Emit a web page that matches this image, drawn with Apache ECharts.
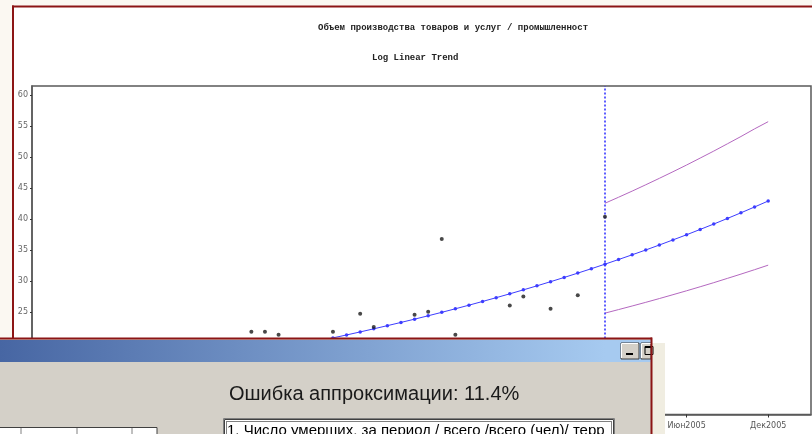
<!DOCTYPE html>
<html>
<head>
<meta charset="utf-8">
<script src="https://cdn.jsdelivr.net/npm/echarts/dist/echarts.min.js"></script>
<style>
html,body{margin:0;padding:0;background:#fbf8f2;}
#chart{width:812px;height:434px;}
</style>
</head>
<body>
<div id="chart"></div>
<script>
// Month index: 0 = Jan 2001. Observations start Jul 2001 (index 6).
const firstObsMonth = 6;
const observed = [
  13.1, 12.6, 13.9, 14.2, 13.5, 15.0, 14.4, 15.8, 15.1, 16.3, 15.7, 17.2, 16.6, 18.1, 17.5,
  21.83, 21.83, 21.35, 19.6, 20.0, 19.1, 21.83, 19.8, 24.73, 22.6, 19.9, 19.8, 24.56, 25.05,
  36.8, 21.35, 19.9, 19.7, 19.6, 26.06, 27.51, 19.8, 25.53, 19.9, 27.74, 19.8, 40.39
];
const trend = [
  12.98, 13.28, 13.58, 13.89, 14.21, 14.53, 14.86, 15.20, 15.55, 15.90, 16.27, 16.64, 17.02, 17.40,
  17.80, 18.21, 18.62, 19.05, 19.48, 19.93, 20.38, 20.85, 21.32, 21.81, 22.31, 22.82, 23.34, 23.87,
  24.41, 24.97, 25.54, 26.12, 26.72, 27.33, 27.95, 28.59, 29.24, 29.91, 30.59, 31.29, 32.00, 32.73,
  33.48, 34.24, 35.02, 35.82, 36.64, 37.47, 38.33, 39.20, 40.10, 41.01, 41.95, 42.91
];
// Confidence bands from the last observed month (Dec 2004, index 47)
const bandStartMonth = 47;
const upper = [42.55, 43.52, 44.51, 45.53, 46.57, 47.63, 48.71, 49.83, 50.96, 52.13, 53.31, 54.54, 55.7];
const lower = [24.84, 25.41, 25.99, 26.58, 27.19, 27.81, 28.44, 29.09, 29.75, 30.44, 31.13, 31.84, 32.57];
const forecastStart = 47;
const xTickMonths = [11, 17, 23, 29, 35, 41, 47, 53, 59];
const xTickLabels = ['Дек2001', 'Июн2002', 'Дек2002', 'Июн2003', 'Дек2003', 'Июн2004', 'Дек2004', 'Июн2005', 'Дек2005'];
const yTickValues = [10, 15, 20, 25, 30, 35, 40, 45, 50, 55, 60];
const titleText = 'Объем производства товаров и услуг / промышленност';
const subtitleText = 'Log Linear Trend';
const errorText = 'Ошибка аппроксимации: 11.4%';
const listItemText = '1. Число умерших, за период / всего /всего (чел)/ терр';

const obsData = observed.map((v, i) => [firstObsMonth + i, v]);
const trendData = trend.map((v, i) => [firstObsMonth + i, v]);
const upperData = upper.map((v, i) => [bandStartMonth + i, v]);
const lowerData = lower.map((v, i) => [bandStartMonth + i, v]);
const labelMap = {};
xTickMonths.forEach((m, i) => { labelMap[m] = xTickLabels[i]; });

const chart = echarts.init(document.getElementById('chart'));
const TOP = 100;
const red = '#8c1515';
chart.setOption({
  backgroundColor: '#ffffff',
  animation: false,
  title: [
    { text: titleText, left: 313, top: 18, textStyle: { fontFamily: 'Liberation Mono', fontWeight: 'bold', fontSize: 9, color: '#222' } },
    { text: subtitleText, left: 367, top: 48, textStyle: { fontFamily: 'Liberation Mono', fontWeight: 'bold', fontSize: 9, color: '#222' } }
  ],
  grid: { left: 32, right: 1, top: 86, bottom: 19.5, show: true, borderColor: '#5a5a5a', borderWidth: 1.5, backgroundColor: '#fff' },
  xAxis: {
    type: 'value', min: 4.87, max: 62.15,
    splitLine: { show: false },
    axisLine: { show: true, onZero: false, lineStyle: { color: '#5a5a5a', width: 1.5 } },
    axisTick: { show: true, customValues: xTickMonths, length: 3, lineStyle: { color: '#333' } },
    axisLabel: { customValues: xTickMonths, formatter: v => labelMap[v] || '', fontFamily: 'DejaVu Sans', fontSize: 8, color: '#555', margin: 7 }
  },
  yAxis: {
    type: 'value', min: 8.5, max: 61.45,
    splitLine: { show: false },
    axisLine: { show: true, lineStyle: { color: '#5a5a5a', width: 1.5 } },
    axisTick: { show: true, customValues: yTickValues, length: 2, lineStyle: { color: '#333' } },
    axisLabel: { customValues: yTickValues, fontFamily: 'DejaVu Sans', fontSize: 8, color: '#666', margin: 4 }
  },
  series: [
    { type: 'line', data: upperData, symbol: 'none', lineStyle: { color: '#b468c0', width: 1 }, z: 3 },
    { type: 'line', data: lowerData, symbol: 'none', lineStyle: { color: '#b468c0', width: 1 }, z: 3 },
    {
      type: 'line', data: trendData, symbol: 'circle', symbolSize: 3.5, showSymbol: true,
      lineStyle: { color: '#3d3dff', width: 1 }, itemStyle: { color: '#3d3dff' }, z: 4,
      markLine: {
        silent: true, symbol: ['none', 'none'], label: { show: false },
        lineStyle: { color: '#2a2aff', type: [2, 2], width: 1.5 },
        data: [{ xAxis: forecastStart }]
      }
    },
    { type: 'scatter', data: obsData, symbol: 'circle', symbolSize: 4, itemStyle: { color: '#1a1a1a' }, z: 5 }
  ],
  graphic: [
    // outer window frame
    { type: 'rect', z: TOP, shape: { x: 0, y: 0, width: 12, height: 338 }, style: { fill: '#fbf8f2' } },
    { type: 'rect', z: TOP, shape: { x: 0, y: 0, width: 812, height: 5.5 }, style: { fill: '#fbf8f2' } },
    { type: 'rect', z: TOP, shape: { x: 12, y: 5.5, width: 800, height: 2 }, style: { fill: red } },
    { type: 'rect', z: TOP, shape: { x: 12, y: 5.5, width: 2, height: 333 }, style: { fill: red } },
    // beige strip right of dialog
    { type: 'rect', z: TOP, shape: { x: 652, y: 343, width: 13, height: 91 }, style: { fill: '#f0ede1' } },
    // dialog body
    { type: 'rect', z: TOP, shape: { x: 0, y: 338, width: 652, height: 96 }, style: { fill: '#d4d0c8' } },
    // title bar
    { type: 'rect', z: TOP, shape: { x: 0, y: 340, width: 651, height: 22 },
      style: { fill: new echarts.graphic.LinearGradient(0, 0, 1, 0, [{ offset: 0, color: '#4766a3' }, { offset: 0.93, color: '#a6caf0' }, { offset: 1, color: '#a6caf0' }]) } },
    // minimize button
    { type: 'rect', z: TOP, shape: { x: 621, y: 343, width: 18, height: 16 }, style: { fill: '#d4d0c8', stroke: '#404040', lineWidth: 1 } },
    { type: 'polyline', z: TOP, shape: { points: [[621.5, 358], [621.5, 343.5], [638, 343.5]] }, style: { stroke: '#ffffff', lineWidth: 1, fill: null } },
    { type: 'rect', z: TOP, shape: { x: 626, y: 353, width: 7, height: 2 }, style: { fill: '#000' } },
    // maximize button (cut off by the window border)
    { type: 'rect', z: TOP, shape: { x: 641, y: 343, width: 10, height: 16 }, style: { fill: '#d4d0c8', stroke: '#404040', lineWidth: 1 } },
    { type: 'polyline', z: TOP, shape: { points: [[641.5, 358], [641.5, 343.5], [651, 343.5]] }, style: { stroke: '#ffffff', lineWidth: 1, fill: null } },
    { type: 'rect', z: TOP, shape: { x: 645, y: 346.5, width: 8, height: 8 }, style: { fill: null, stroke: '#000', lineWidth: 1 } },
    { type: 'rect', z: TOP, shape: { x: 645, y: 346, width: 6, height: 2 }, style: { fill: '#000' } },
    // dialog red borders
    { type: 'rect', z: TOP, shape: { x: 0, y: 337.5, width: 652, height: 2 }, style: { fill: red } },
    { type: 'rect', z: TOP, shape: { x: 650.5, y: 337.5, width: 2, height: 97 }, style: { fill: red } },
    // error text
    { type: 'text', z: TOP, style: { x: 229, y: 394, text: errorText, fill: '#1a1a1a', font: '20px "Liberation Sans", Arial, sans-serif', verticalAlign: 'middle' } },
    // list box
    { type: 'rect', z: TOP, shape: { x: 223.5, y: 418.5, width: 391, height: 20 }, style: { fill: '#fff', stroke: '#808080', lineWidth: 1 } },
    { type: 'rect', z: TOP, shape: { x: 224.5, y: 419.5, width: 389, height: 20 }, style: { fill: null, stroke: '#404040', lineWidth: 1 } },
    { type: 'rect', z: TOP, shape: { x: 226.5, y: 421.5, width: 385, height: 16 }, style: { fill: null, stroke: '#000', lineWidth: 1, lineDash: [1, 1] } },
    { type: 'text', z: TOP, style: { x: 227, y: 431, text: listItemText, fill: '#000', font: '15px "Liberation Sans", Arial, sans-serif', verticalAlign: 'middle' } },
    // small table at bottom-left
    { type: 'rect', z: TOP, shape: { x: -1, y: 427.5, width: 158, height: 10 }, style: { fill: '#fff', stroke: '#404040', lineWidth: 1 } },
    { type: 'line', z: TOP, shape: { x1: 21, y1: 428, x2: 21, y2: 434 }, style: { stroke: '#808080', lineWidth: 1 } },
    { type: 'line', z: TOP, shape: { x1: 77, y1: 428, x2: 77, y2: 434 }, style: { stroke: '#808080', lineWidth: 1 } },
    { type: 'line', z: TOP, shape: { x1: 132, y1: 428, x2: 132, y2: 434 }, style: { stroke: '#808080', lineWidth: 1 } }
  ]
});
</script>
</body>
</html>
